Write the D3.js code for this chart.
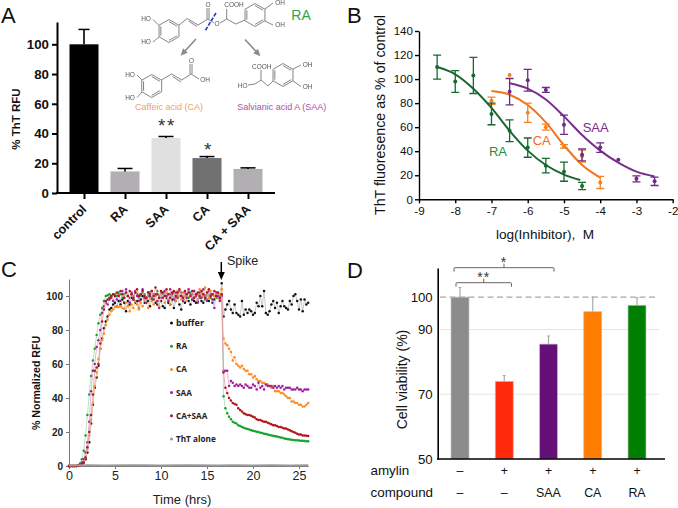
<!DOCTYPE html>
<html>
<head>
<meta charset="utf-8">
<script src="https://cdn.jsdelivr.net/npm/d3@7"></script>
<style>
  html, body { margin: 0; padding: 0; background: #fff; }
  svg { display: block; }
  text { font-family: "Liberation Sans", Arial, sans-serif; }
</style>
</head>
<body>
<div id="chart"></div>
<script>
// Panel A
const barNamesA = ["control", "RA", "SAA", "CA", "CA + SAA"];
const barValuesA = [100, 14.5, 37, 23.5, 16.2];
const barErrorsA = [10, 2, 1, 1, 0.7];
const barColorsA = ["#000000", "#b1afb1", "#e0e0e0", "#717171", "#b1afb1"];
const ticksA = [0, 20, 40, 60, 80, 100];

// Panel B
const ticksBx = [-9, -8, -7, -6, -5, -4, -3, -2];
const ticksBy = [0, 20, 40, 60, 80, 100, 120, 140];
const raLogX = [-8.5, -8, -7.5, -7, -6.5, -6, -5.5, -5, -4.5];
const raMean = [110, 98, 103, 71, 57, 43, 28, 23, 11];
const raErr = [10, 9, 15, 9, 9, 8, 6, 8, 3];
const raFitX = [-8.5, -8, -7.5, -7, -6.5, -6, -5.5, -5, -4.55];
const raFit = [110, 104, 92, 76, 57, 40.5, 28.5, 20.5, 16];
const caLogX = [-7, -6.5, -6, -5.5, -5, -4.5, -4];
const caMean = [82, 103.5, 72, 60, 44, 36, 14];
const caErr = [3, 0, 8, 2.5, 1.5, 5, 5];
const caFitX = [-7, -6.5, -6, -5.5, -5, -4.5, -4];
const caFit = [90, 87, 78.5, 64, 45, 28.5, 18];
const saaLogX = [-6.5, -6, -5.5, -5, -4.5, -4, -3.5, -3, -2.5];
const saaMean = [89.5, 99, 91, 62, 37, 43, 33, 17, 15];
const saaErr = [11, 9, 2, 8, 5, 4, 0, 2.5, 3.5];
const saaFitX = [-6.5, -6, -5.5, -5, -4.5, -4, -3.5, -3, -2.5];
const saaFit = [96.5, 92, 83, 69, 53.5, 40.5, 30.5, 23, 19];

// Panel C, one reading every 0.2 h, the spike comes after 16.6 h
const stepC = 0.2;
const ticksCx = [0, 5, 10, 15, 20, 25];
const ticksCy = [0, 20, 40, 60, 80, 100];
const bufferC = [0,0,0,0,0,.3,.6,1,2,4,8,14,25,36,46,52,59,69,75,81,85,88,92,93,95,
  96,94,97,95,98,96,91,97,95,99,98,96,97,93,98,100,96,99,97,94,98,101,96,95,99,97,94,93,99,96,95,98,93,97,100,
  95,92,98,96,99,97,95,98,97,96,97,99,97,96,100,98,97,99,96,98,101,99,98,107.5,
  88,92,95,97,92,90,95,90,89,88,97,89,92,90,92,91,89,90,96,94,100,94,103,90,89,91,95,97,93,96,90,94,97,94,93,92,97,95,100,101,97,92,98,91,98,95,96];
const raC = [0,0,0,0,0,.5,1.5,4,9,18,30,42,53,62,69,77,84,89,93,97,100,100.5,101,100,101,
  101,100,102,101,99,101,102,100,99,101,100,102,101,99,100,102,101,98,100,102,99,101,100,103,100,99,101,102,100,98,101,100,102,99,101,
  100,102,98,101,100,99,102,101,99,100,101,99,102,100,98,101,100,99,101,100,99,101,100,100,
  41,34,31,29,27.5,26,25.5,25,24,23.5,23,22.5,22,21.8,21.5,21,20.8,20.5,20.2,20,19.6,19.4,19,18.8,18.5,18.2,18,17.8,17.5,17.3,17,16.8,16.6,16.2,16,15.8,15.6,15.5,15.3,15.2,15.1,15,14.9,14.8,14.7,14.6,14.5];
const caC = [0,0,0,0,0,.3,.6,1,2.5,5,10,18,27,37,47,55,63,69,74,78,83,86,89,91,92,
  93.5,94,93.5,94,93,92.5,96,94,91,95,93,97,95,92,96,94,98,96,93,99,97,95,100,97,94,101,99,96,102,98,95,101,99,97,103,
  100,98,102,100,97,103,100,99,103,101,98,104,101,100,105,102,99,103,101,100,102,99,101,104,
  75,72,71,69,67,62,64,60,59,58,59,57,56,56,54,54,52,53,51,50,50,49,49,48,48,47,46,47,44,44,44,43,43,42,41,40,40,38,38,37,37,36,36,35,35,36,37];
const saaC = [0,0,0,0,0,.4,1,2,4,8,14,26,44,56,60,70,74,80,90,94,96,95,98,99,97,
  100,98,101,97,103,99,104,100,96,102,98,103,100,97,101,104,99,96,102,100,103,98,101,97,93,102,99,103,100,97,104,101,98,102,99,
  103,100,97,102,99,104,101,98,103,100,96,102,99,104,100,97,103,101,98,93,102,100,97,100,
  56,56,56,47,50,49,47,48,47,48,47,46,48,47,46,46,48,47,45,49,46,47,45,48,47,47,47,46,47,46,47,46,47,45,46,46,46,45,45,45,46,45,45,44,45,45,45];
const mixC = [0,0,0,0,0,.2,.5,1,2,5,11,20,30,42,56,58,60,72,85,92,97,98,99,100,101,
  100,102,100,103,101,99,102,100,103,101,99,102,104,100,101,103,100,99,102,101,103,100,105,101,99,103,102,100,104,101,99,102,103,100,102,
  104,100,99,103,101,102,100,103,99,101,102,100,103,101,99,102,104,100,101,103,100,102,99,101,
  55,46,43,40,38.5,37,36.5,36,34,33,32,31,30.5,30,30,29.5,29,28.5,27.5,27,27,26.5,26,26,25.5,25,24.5,24,24,23.5,23,23,22.5,22,22,21.5,21,20.5,20,19.5,19,18.5,18.5,18,18,17.8,17.6];
const thtTimes = [0, 2, 4, 6, 8, 10, 12, 14, 16, 18, 20, 22, 24, 26];
const thtAlone = [0.3, 0.4, 0.3, 0.4, 0.4, 0.3, 0.4, 0.4, 0.3, 0.4, 0.3, 0.4, 0.3, 0.4];
const seriesNamesC = ["buffer", "RA", "CA", "SAA", "CA+SAA", "ThT alone"];
const dotColorsC = ["#111111", "#12a32c", "#ff8a1e", "#a0209a", "#b0141c", "#9a9a9a"];
const lineColorsC = ["#bdbdbd", "#a8dcae", "#f9c48f", "#dca4d8", "#e59a9a", "#9a9a9a"];

// Panel D
const barNamesD = ["none", "amylin", "SAA", "CA", "RA"];
const barValuesD = [100, 74, 85.5, 95.5, 97.5];
const barErrorsD = [3, 1.8, 2.5, 4.5, 2.3];
const barColorsD = ["#8c8c8c", "#ff2a0c", "#650f78", "#ff7d00", "#008000"];
const ticksD = [50, 70, 90, 100];
const amylinRow = ["–", "+", "+", "+", "+"];
const compoundRow = ["–", "–", "SAA", "CA", "RA"];

const svg = d3.select("#chart").append("svg")
  .attr("width", 678)
  .attr("height", 508);

// filtre leger pour les structures, comme sur l'image d'origine
svg.append("defs").append("filter").attr("id", "soft")
  .append("feGaussianBlur").attr("stdDeviation", 0.3);

// petites lettres des panneaux
[["A", 1, 23], ["B", 347, 23], ["C", 1, 277], ["D", 347, 278]].forEach(([t, x, y]) => {
  svg.append("text").attr("x", x).attr("y", y).attr("font-size", 22).attr("fill", "#111").text(t);
});

function label(parent, str, x, y, size, opts = {}) {
  const el = parent.append("text")
    .attr("x", x).attr("y", y)
    .attr("font-size", size)
    .attr("text-anchor", opts.anchor || "middle")
    .attr("font-weight", opts.weight || "normal")
    .attr("fill", opts.fill || "#111")
    .text(str);
  if (opts.rotate) el.attr("transform", `rotate(${opts.rotate},${x},${y})`);
  return el;
}

function styleAxis(g, width, color, size, weight, textColor) {
  g.selectAll(".domain, .tick line").attr("stroke", color).attr("stroke-width", width);
  g.selectAll("text").attr("font-size", size).attr("font-weight", weight)
    .attr("fill", textColor || "#111")
    .style("font-family", '"Liberation Sans", Arial, sans-serif');
}

// ---------- Panel A ----------
const gA = svg.append("g");
const xA = d3.scalePoint().domain(barNamesA).range([84, 248]);
const yA = d3.scaleLinear().domain([0, 115]).range([193, 22]);

gA.selectAll(".bar").data(barNamesA).enter().append("rect")
  .attr("x", d => xA(d) - 14.5)
  .attr("width", 29)
  .attr("y", (d, i) => yA(barValuesA[i]))
  .attr("height", (d, i) => yA(0) - yA(barValuesA[i]))
  .attr("fill", (d, i) => barColorsA[i]);

const errA = gA.selectAll(".err").data(barNamesA).enter().append("g");
errA.append("line")
  .attr("x1", d => xA(d)).attr("x2", d => xA(d))
  .attr("y1", (d, i) => yA(barValuesA[i]))
  .attr("y2", (d, i) => yA(barValuesA[i] + barErrorsA[i]))
  .attr("stroke", "#000").attr("stroke-width", 1.6);
errA.append("line")
  .attr("x1", (d, i) => xA(d) - (i === 0 ? 5.5 : 7.5))
  .attr("x2", (d, i) => xA(d) + (i === 0 ? 5.5 : 7.5))
  .attr("y1", (d, i) => yA(barValuesA[i] + barErrorsA[i]))
  .attr("y2", (d, i) => yA(barValuesA[i] + barErrorsA[i]))
  .attr("stroke", "#000").attr("stroke-width", 1.5);

const axisAy = gA.append("g").attr("transform", "translate(57,0)")
  .call(d3.axisLeft(yA).tickValues(ticksA).tickSize(5).tickSizeOuter(0));
styleAxis(axisAy, 2, "#000", 13.3, "bold");

const axisAx = gA.append("g").attr("transform", `translate(0,${yA(0)})`)
  .call(d3.axisBottom(xA).tickSize(6).tickSizeOuter(0));
styleAxis(axisAx, 2, "#000", 12.6, "bold");
axisAx.select(".domain").remove();
axisAx.selectAll("text")
  .attr("text-anchor", "end")
  .attr("dx", -10).attr("dy", 5)
  .attr("transform", "rotate(-45)");
gA.append("line").attr("x1", 56).attr("x2", 275).attr("y1", yA(0)).attr("y2", yA(0))
  .attr("stroke", "#000").attr("stroke-width", 2);

label(gA, "% ThT RFU", 20, 119, 11.5, { weight: "bold", rotate: -90 });
label(gA, "**", 167, 132, 19, { fill: "#333" }).attr("letter-spacing", 1.5);
label(gA, "*", 207.7, 156, 19, { fill: "#333" });

// structures chimiques
const chem = svg.append("g").attr("fill", "none").attr("stroke", "#666").attr("stroke-width", 0.8)
  .attr("filter", "url(#soft)");
function hexagon(cx, cy, r) {
  const pts = d3.range(6).map(i => {
    const a = Math.PI / 6 + i * Math.PI / 3;
    return [cx + r * Math.cos(a), cy + r * Math.sin(a)];
  });
  chem.append("path").attr("d", d3.line()(pts) + "Z");
  [[0, 1], [2, 3], [4, 5]].forEach(([a, b]) => {
    chem.append("path").attr("d", d3.line()([pts[a], pts[b]].map(p => [p[0] - (p[0] - cx) * .18, p[1] - (p[1] - cy) * .18])));
  });
}
function bonds(points) { chem.append("path").attr("d", d3.line()(points)); }
function chemText(t, x, y) {
  chem.append("text").attr("x", x).attr("y", y + 2.2).attr("font-size", 6.5)
    .attr("text-anchor", "middle").attr("fill", "#555").attr("stroke", "none").text(t);
}
function arrowLine(x1, y1, x2, y2) {
  const a = Math.atan2(y2 - y1, x2 - x1);
  chem.append("line").attr("x1", x1).attr("y1", y1).attr("x2", x2).attr("y2", y2)
    .attr("stroke", "#8a8a8a").attr("stroke-width", 1.6);
  chem.append("path")
    .attr("d", d3.line()([[x2 + 5 * Math.cos(a), y2 + 5 * Math.sin(a)],
      [x2 - 2 * Math.cos(a) - 3.2 * Math.sin(a), y2 - 2 * Math.sin(a) + 3.2 * Math.cos(a)],
      [x2 - 2 * Math.cos(a) + 3.2 * Math.sin(a), y2 - 2 * Math.sin(a) - 3.2 * Math.cos(a)]]) + "Z")
    .attr("fill", "#8a8a8a").attr("stroke", "none");
}

// acide rosmarinique
hexagon(169, 31, 11.5);
bonds([[153, 19.5], [159, 25.5]]);
bonds([[153, 42], [159, 37]]);
bonds([[179, 25], [187.3, 18.5], [198, 25], [208, 19]]);
bonds([[188.5, 21], [197, 26.5]]);
bonds([[207, 19], [207, 8]]);
bonds([[209, 19], [209, 8]]);
bonds([[208, 19], [214, 23]]);
bonds([[220, 23], [226.7, 19], [226.7, 9]]);
bonds([[226.7, 19], [235.7, 24], [245, 20]]);
hexagon(255, 15, 11.5);
bonds([[265, 9], [273, 3]]);
bonds([[265, 21], [273, 25]]);
chemText("HO", 146, 19);
chemText("HO", 146, 42);
chemText("O", 208, 5);
chemText("O", 217, 24);
chemText("COOH", 234, 4.5);
chemText("OH", 280, 3);
chemText("OH", 280, 25);
chem.append("line").attr("x1", 216).attr("y1", 13).attr("x2", 205).attr("y2", 31)
  .attr("stroke", "#1c3fc4").attr("stroke-width", 1.6).attr("stroke-dasharray", "4,1.4");
label(svg, "RA", 301, 20, 14, { fill: "#27a84a" });
arrowLine(196, 39, 184, 52);
arrowLine(245, 39.5, 257, 52.5);

// acide caféique
hexagon(151.7, 86, 11.5);
bonds([[137, 75], [142, 80]]);
bonds([[137, 97.5], [142, 92]]);
bonds([[161.5, 80], [171.7, 74], [181.7, 80], [191, 74]]);
bonds([[172.5, 76.5], [181, 82]]);
bonds([[190, 74], [190, 64]]);
bonds([[192, 74], [192, 64]]);
bonds([[191, 74], [199, 79]]);
chemText("HO", 130, 75);
chemText("HO", 130, 97.7);
chemText("O", 191.5, 60.6);
chemText("OH", 205, 80);
label(svg, "Caffeic acid (CA)", 169, 109.5, 9, { fill: "#f5a15c" });

// acide salvianique
hexagon(283, 75, 11.5);
bonds([[248, 85], [255, 84], [261, 80], [261, 70]]);
bonds([[261, 80], [268, 86], [273, 81]]);
bonds([[293, 69], [301, 65]]);
bonds([[293, 81], [301, 86.5]]);
chemText("COOH", 261.7, 66.5);
chemText("HO", 242.7, 86);
chemText("OH", 307.7, 65);
chemText("OH", 307.7, 87);
label(svg, "Salvianic acid A (SAA)", 281.7, 109.5, 9, { fill: "#b04fa8" });

// ---------- Panel B ----------
const gB = svg.append("g");
const xB = d3.scaleLinear().domain([-9, -2]).range([419, 672.7]);
const yB = d3.scaleLinear().domain([0, 140]).range([199.3, 31]);

const axisBy = gB.append("g").attr("transform", "translate(419,0)")
  .call(d3.axisLeft(yB).tickValues(ticksBy).tickSize(4).tickSizeOuter(0));
styleAxis(axisBy, 1.4, "#000", 11.6, "normal");
axisBy.selectAll("text").attr("dx", 1);
const axisBx = gB.append("g").attr("transform", `translate(0,${yB(0)})`)
  .call(d3.axisBottom(xB).tickValues(ticksBx).tickSize(4).tickSizeOuter(0));
styleAxis(axisBx, 1.4, "#000", 11.6, "normal");
axisBx.selectAll("text").text(d => "-" + Math.abs(d));

const fitLine = d3.line().curve(d3.curveMonotoneX);
function drawDose(xs, means, errs, fitXs, fit, color, darkColor) {
  gB.append("path")
    .attr("d", fitLine(fitXs.map((x, i) => [xB(x), yB(fit[i])])))
    .attr("fill", "none").attr("stroke", color).attr("stroke-width", 2);
  const rows = xs.map((x, i) => ({ x, mean: means[i], err: errs[i] }));
  const g = gB.append("g").selectAll("g").data(rows).enter().append("g");
  g.filter(d => d.err > 0).append("path")
    .attr("d", d => {
      const x = xB(d.x), t = yB(d.mean + d.err), b = yB(d.mean - d.err);
      return `M${x - 4},${t}H${x + 4}M${x},${t}V${b}M${x - 4},${b}H${x + 4}`;
    })
    .attr("fill", "none").attr("stroke", darkColor).attr("stroke-width", 1.3);
  g.append("circle")
    .attr("cx", d => xB(d.x))
    .attr("cy", d => yB(d.mean))
    .attr("r", 2)
    .attr("fill", darkColor);
}
drawDose(caLogX, caMean, caErr, caFitX, caFit, "#f0751c", "#f58220");
drawDose(saaLogX, saaMean, saaErr, saaFitX, saaFit, "#7b2d8e", "#6f2a86");
drawDose(raLogX, raMean, raErr, raFitX, raFit, "#17692f", "#17692f");

label(gB, "SAA", 595.7, 132, 13, { fill: "#7a2a8c" });
label(gB, "CA", 541.7, 144.5, 13, { fill: "#ee6a2c" });
label(gB, "RA", 498, 155.5, 13, { fill: "#1f8f40" });
label(gB, "ThT fluoresence as % of control", 385, 115, 14.2, { rotate: -90 });
label(gB, "log(Inhibitor),\u00a0 M", 545, 239, 13.6);

// ---------- Panel C ----------
const gC = svg.append("g");
const xC = d3.scaleLinear().domain([0, 26]).range([69, 308.2]);
const yC = d3.scaleLinear().domain([0, 110]).range([466, 279]);

const axisCy = gC.append("g").attr("transform", "translate(69,0)")
  .call(d3.axisLeft(yC).tickValues(ticksCy).tickSize(3).tickSizeOuter(0));
styleAxis(axisCy, 1, "#777", 10, "bold", "#222");
const axisCx = gC.append("g").attr("transform", "translate(0,466)")
  .call(d3.axisBottom(xC).tickValues(ticksCx).tickSize(3).tickSizeOuter(0));
styleAxis(axisCx, 1, "#777", 12.5, "normal", "#222");
axisCx.selectAll("text").attr("dy", 8);

const lineC = d3.line().x(d => xC(d[0])).y(d => yC(d[1]));
function drawKinetic(values, idx) {
  const pts = values.map((v, i) => [i * stepC, v]);
  gC.append("path").attr("d", lineC(pts))
    .attr("fill", "none").attr("stroke", lineColorsC[idx]).attr("stroke-width", 0.8);
  gC.append("g").selectAll("circle").data(pts).enter().append("circle")
    .attr("cx", d => xC(d[0])).attr("cy", d => yC(d[1]))
    .attr("r", 1.25).attr("fill", dotColorsC[idx]);
}
drawKinetic(bufferC, 0);
drawKinetic(raC, 1);
drawKinetic(caC, 2);
drawKinetic(saaC, 3);
drawKinetic(mixC, 4);
gC.append("path").attr("d", lineC(thtTimes.map((t, i) => [t, thtAlone[i]])))
  .attr("fill", "none").attr("stroke", lineColorsC[5]).attr("stroke-width", 2);

// légende
const legendY = d3.scalePoint().domain(seriesNamesC).range([323, 439]);
const legendC = gC.append("g").selectAll("g").data(seriesNamesC).enter().append("g");
legendC.append("circle").attr("cx", 171.5).attr("cy", d => legendY(d)).attr("r", 1.5)
  .attr("fill", (d, i) => dotColorsC[i]);
legendC.append("text").attr("x", 176).attr("y", d => legendY(d) + 3)
  .attr("font-size", (d, i) => i === 0 ? 9 : 8.2).attr("font-weight", "bold")
  .attr("fill", "#222").style("font-family", '"Open Sans", sans-serif').text(d => d);

label(gC, "% Normalized RFU", 40, 383, 10.6, { weight: "bold", rotate: -90 });
label(gC, "Time (hrs)", 182, 504, 13, { fill: "#222" });
gC.append("line").attr("x1", 221.3).attr("x2", 221.3).attr("y1", 262).attr("y2", 273)
  .attr("stroke", "#000").attr("stroke-width", 1.5);
gC.append("path").attr("d", "M217.8,272L224.8,272L221.3,280Z").attr("fill", "#000");
label(gC, "Spike", 227, 265, 12.5, { fill: "#222", anchor: "start" });

// ---------- Panel D ----------
const gD = svg.append("g");
const xD = d3.scalePoint().domain(barNamesD).range([460, 637]);
const yD = d3.scaleLinear().domain([50, 109]).range([459, 268]);

gD.selectAll(".grid").data([70, 90]).enter().append("line")
  .attr("x1", 440).attr("x2", 659)
  .attr("y1", d => yD(d)).attr("y2", d => yD(d))
  .attr("stroke", "#e6e6e6").attr("stroke-width", 1);

gD.selectAll(".err").data(barNamesD).enter().append("line")
  .attr("x1", d => xD(d)).attr("x2", d => xD(d))
  .attr("y1", (d, i) => yD(barValuesD[i]))
  .attr("y2", (d, i) => yD(barValuesD[i] + barErrorsD[i]))
  .attr("stroke", "#aaa").attr("stroke-width", 1.2);
gD.selectAll(".errcap").data(barNamesD).enter().append("line")
  .attr("x1", d => xD(d) - 1.5).attr("x2", d => xD(d) + 1.5)
  .attr("y1", (d, i) => yD(barValuesD[i] + barErrorsD[i]))
  .attr("y2", (d, i) => yD(barValuesD[i] + barErrorsD[i]))
  .attr("stroke", "#aaa").attr("stroke-width", 1);

gD.selectAll(".bar").data(barNamesD).enter().append("rect")
  .attr("x", d => xD(d) - 9)
  .attr("width", 18)
  .attr("y", (d, i) => yD(barValuesD[i]))
  .attr("height", (d, i) => yD(50) - yD(barValuesD[i]))
  .attr("fill", (d, i) => barColorsD[i])
  .attr("stroke", "#c4c4c4").attr("stroke-width", 0.7);

gD.append("line").attr("x1", 440).attr("x2", 657).attr("y1", yD(100)).attr("y2", yD(100))
  .attr("stroke", "#a8a8a8").attr("stroke-width", 1.3).attr("stroke-dasharray", "6,3.5");

const axisDy = gD.append("g").attr("transform", "translate(437.7,0)")
  .call(d3.axisLeft(yD).tickValues(ticksD).tickSize(0).tickSizeOuter(0).tickPadding(5));
styleAxis(axisDy, 1.6, "#000", 13.2, "normal");
gD.append("line").attr("x1", 437).attr("x2", 665).attr("y1", yD(50)).attr("y2", yD(50))
  .attr("stroke", "#000").attr("stroke-width", 1.6);

label(gD, "Cell viability (%)", 407, 379.5, 14, { rotate: -90 });
label(gD, "amylin", 370.5, 475, 13.4, { anchor: "start" });
label(gD, "compound", 370.5, 497, 13.4, { anchor: "start" });
barNamesD.forEach((d, i) => {
  label(gD, amylinRow[i], xD(d), 475, 12.4);
  label(gD, compoundRow[i], xD(d), 497, 12.4);
});

function bracket(x1, x2, y, stars) {
  const mid = (x1 + x2) / 2;
  gD.append("path")
    .attr("d", `M${x1},${y + 4}V${y + 1}Q${x1},${y} ${x1 + 1},${y}H${x2 - 1}Q${x2},${y} ${x2},${y + 1}V${y + 4}M${mid},${y}V${y - 4}`)
    .attr("fill", "none").attr("stroke", "#555").attr("stroke-width", 0.9);
  label(gD, stars, mid, y - 1, 14, { fill: "#333" }).attr("letter-spacing", 1);
}
bracket(456, 511.5, 282.7, "**");
bracket(454, 554, 267.7, "*");
</script>
</body>
</html>
